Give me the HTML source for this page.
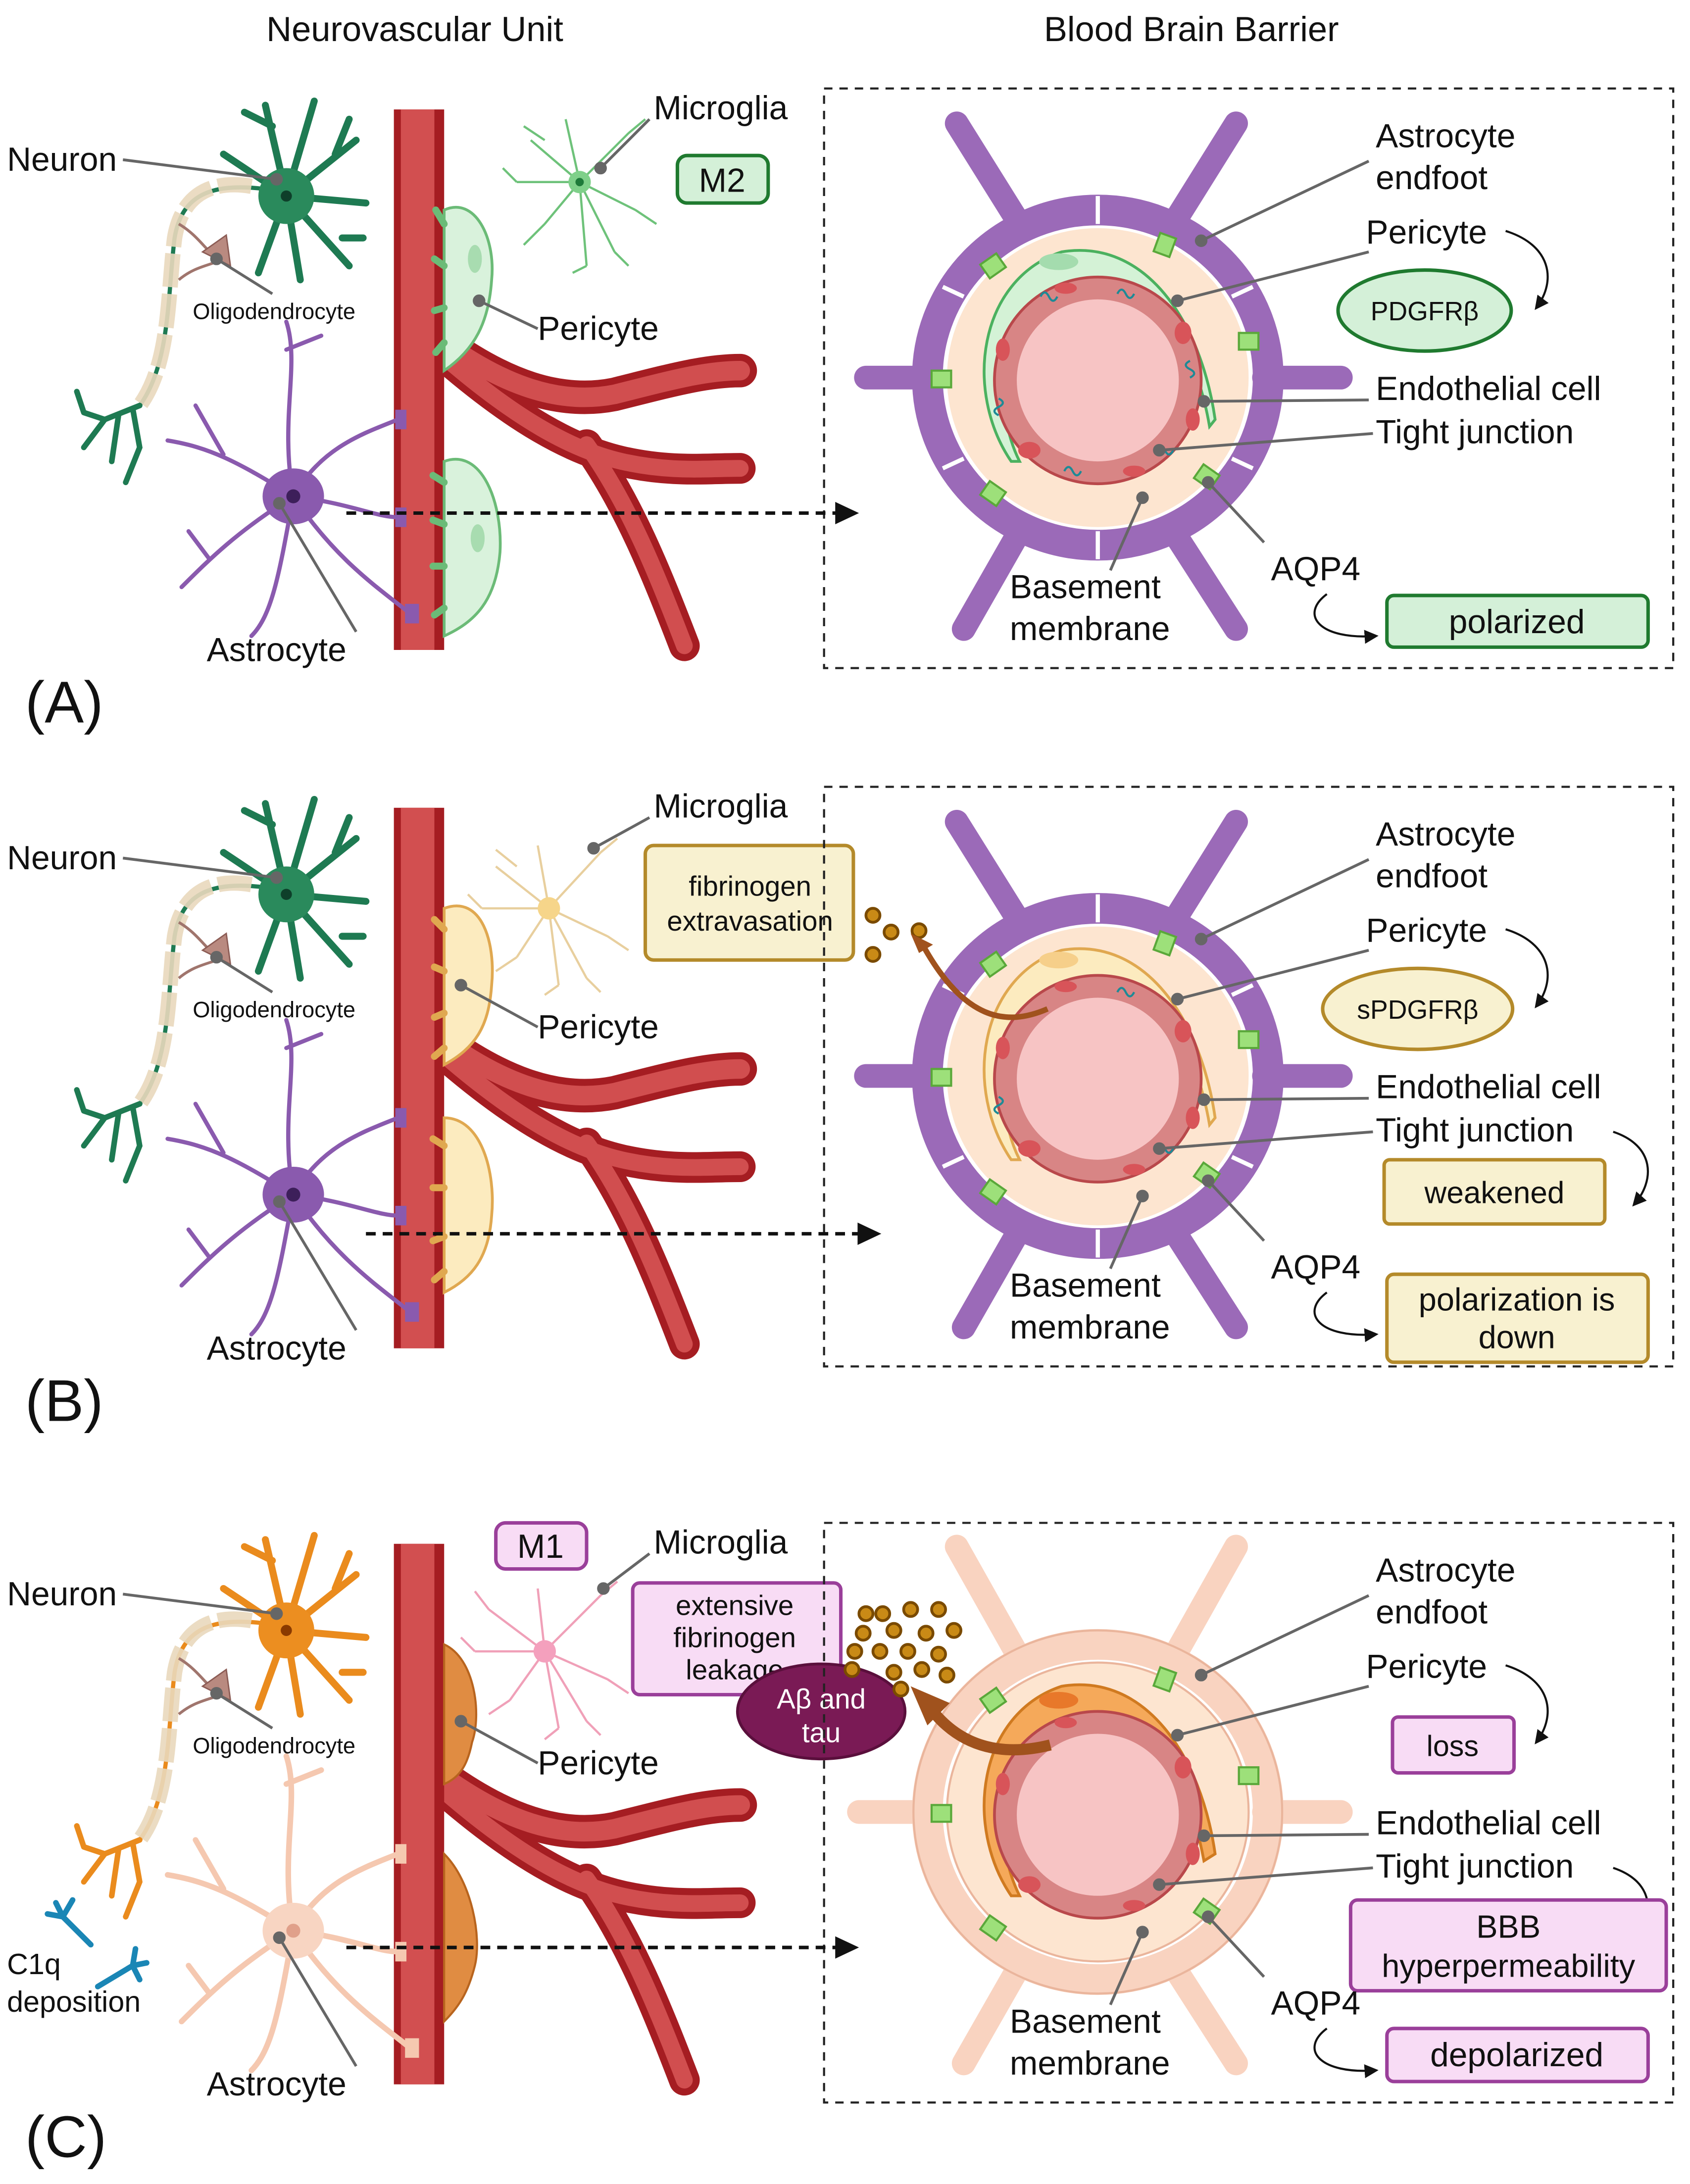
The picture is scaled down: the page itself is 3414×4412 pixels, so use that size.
<!DOCTYPE html>
<html><head><meta charset="utf-8"><style>
html,body{margin:0;padding:0;background:#fff}
svg{display:block}
text{font-family:"Liberation Sans",sans-serif;fill:#111}
</style></head><body>
<svg width="3414" height="4412" viewBox="0 0 1210 1563" xmlns="http://www.w3.org/2000/svg">
<defs>
<marker id="ah" markerWidth="10" markerHeight="10" refX="8" refY="5" orient="auto" markerUnits="userSpaceOnUse"><path d="M0,0 L10,5 L0,10z" fill="#111"/></marker>
<g id="vessel">
  <g fill="none" stroke-linecap="round">
    <path d="M318,245 C360,275 400,290 440,282 C480,272 505,265 530,265" stroke="#a51d22" stroke-width="24"/>
    <path d="M318,255 C370,300 410,322 445,330 C480,338 505,335 530,335" stroke="#a51d22" stroke-width="22"/>
    <path d="M420,318 C450,360 470,410 490,462" stroke="#a51d22" stroke-width="22"/>
    <path d="M318,245 C360,275 400,290 440,282 C480,272 505,265 530,265" stroke="#d14e4f" stroke-width="14"/>
    <path d="M318,255 C370,300 410,322 445,330 C480,338 505,335 530,335" stroke="#d14e4f" stroke-width="12"/>
    <path d="M420,318 C450,360 470,410 490,462" stroke="#d14e4f" stroke-width="12"/>
  </g>
  <rect x="282" y="78" width="36" height="387" fill="#a51d22"/>
  <rect x="287" y="78" width="24" height="387" fill="#d24f50"/>
</g>
<g id="axon">
  <path d="M190,135 C150,130 130,140 125,170 C120,210 122,260 100,290" fill="none" stroke="currentColor" stroke-width="3"/>
  <path d="M180,133 C150,128 130,140 125,170 C120,210 122,260 100,290" fill="none" stroke="#e9d8bd" stroke-width="11" stroke-dasharray="24,5" opacity=".9"/>
  <path d="M100,290 L75,300 L60,295 M85,296 L80,330 M95,292 L100,320 L90,345 M75,300 L60,320 M60,295 L55,280" fill="none" stroke="currentColor" stroke-width="4" stroke-linecap="round"/>
  <path d="M128,160 C145,170 150,185 160,185 C150,190 140,190 128,200" fill="none" stroke="#a0756d" stroke-width="2"/>
  <path d="M145,180 L162,168 L165,190 Z" fill="#b98a80" stroke="#8c5c55"/>
</g>
<g id="bbbin">
  <circle cx="786" cy="272" r="74" fill="#d88585" stroke="#b9484b" stroke-width="2"/>
  <circle cx="786" cy="272" r="58" fill="#f7c4c4"/>
  <g fill="#d85459"><ellipse cx="763" cy="206" rx="8" ry="4"/><ellipse cx="847" cy="238" rx="6" ry="8"/><ellipse cx="854" cy="300" rx="5" ry="8"/><ellipse cx="737" cy="322" rx="8" ry="6"/><ellipse cx="812" cy="337" rx="8" ry="4"/><ellipse cx="718" cy="250" rx="5" ry="8"/></g>
</g>
</defs>

<text x="297" y="29" font-size="25" text-anchor="middle">Neurovascular Unit</text>
<text x="853" y="29" font-size="25" text-anchor="middle">Blood Brain Barrier</text>

<!-- PANEL A -->
<g>
  <use href="#vessel"/>
  <g color="#1e7a52"><use href="#axon"/></g>
  <g stroke="#1e7a52" stroke-width="5" stroke-linecap="round" fill="none">
    <path d="M205,140 L190,75 M205,140 L225,72 M205,140 L255,100 M205,140 L262,145 M205,140 L250,190 M205,140 L215,200 M205,140 L185,195 M205,140 L160,110 M195,90 L175,80 M240,110 L250,85 M245,170 L260,170"/>
  </g>
  <circle cx="205" cy="140" r="20" fill="#2a8a5c"/><circle cx="205" cy="140" r="4" fill="#0e3f2a"/>
  <g stroke="#8a5aae" stroke-width="3" fill="none" stroke-linecap="round">
    <path d="M210,355 C230,320 260,310 285,300 M210,355 C250,360 270,370 285,370 M210,355 C240,400 270,420 295,440 M210,355 C200,300 215,260 205,230 M210,355 C170,330 150,320 120,315 M210,355 C170,380 150,400 130,420 M210,355 C200,410 195,440 180,455 M205,250 L230,240 M160,325 L140,290 M150,400 L135,380"/>
  </g>
  <ellipse cx="210" cy="355" rx="22" ry="20" fill="#8a5aae"/><circle cx="210" cy="355" r="5" fill="#3d1f5a"/>
  <g fill="#8a5aae"><rect x="283" y="293" width="8" height="14"/><rect x="283" y="363" width="8" height="14"/><rect x="290" y="432" width="10" height="14"/></g>
  <g stroke="#6ec27a" stroke-width="1.6" fill="none">
    <path d="M415,130 L380,100 M415,130 L390,160 M415,130 L450,95 M415,130 L455,150 M415,130 L420,190 M415,130 L405,85 M415,130 L370,130 M415,130 L440,180 M390,100 L375,90 M450,95 L462,85 M455,150 L470,160 M390,160 L375,175 M370,130 L360,120 M420,190 L410,195 M440,180 L450,190"/>
  </g>
  <circle cx="415" cy="130" r="8" fill="#7fd08a"/><circle cx="415" cy="130" r="3" fill="#1e7a3a"/>
  <path d="M318,150 C340,140 355,170 352,200 C350,230 340,250 318,265 Z" fill="#d9f2dc" stroke="#6bbb77" stroke-width="2"/>
  <path d="M318,330 C345,320 360,360 358,395 C355,430 340,445 318,455 Z" fill="#d9f2dc" stroke="#6bbb77" stroke-width="2"/>
  <g stroke="#6bbb77" stroke-width="5" stroke-linecap="round"><path d="M318,160 L312,150 M318,190 L311,185 M318,220 L311,222 M318,245 L312,252 M318,345 L310,340 M318,375 L310,372 M318,405 L310,405 M318,435 L311,440"/></g>
  <ellipse cx="340" cy="185" rx="5" ry="10" fill="#a8dcb0"/><ellipse cx="342" cy="385" rx="5" ry="10" fill="#a8dcb0"/>
</g>
<g stroke="#666" stroke-width="2" fill="#666">
  <path d="M88,114 L198,128" fill="none"/><circle cx="198" cy="128" r="3.5"/>
  <path d="M195,210 L155,185" fill="none"/><circle cx="155" cy="185" r="3.5"/>
  <path d="M465,85 L430,120" fill="none"/><circle cx="430" cy="120" r="3.5"/>
  <path d="M385,235 L343,215" fill="none"/><circle cx="343" cy="215" r="3.5"/>
  <path d="M255,452 L200,360" fill="none"/><circle cx="200" cy="360" r="3.5"/>
</g>
<text x="5" y="122" font-size="24">Neuron</text>
<text x="138" y="228" font-size="16">Oligodendrocyte</text>
<text x="468" y="85" font-size="24">Microglia</text>
<rect x="485" y="111" width="65" height="34" rx="7" fill="#d4f0d8" stroke="#1f7a2f" stroke-width="2.5"/>
<text x="517" y="137" font-size="24" text-anchor="middle">M2</text>
<text x="385" y="243" font-size="24">Pericyte</text>
<text x="148" y="473" font-size="24">Astrocyte</text>
<text x="18" y="517" font-size="42">(A)</text>

<rect x="590" y="63" width="608" height="415" fill="none" stroke="#222" stroke-width="1.5" stroke-dasharray="6,5"/>
<path d="M248,367 L610,367" stroke="#111" stroke-width="2.5" stroke-dasharray="7,5" fill="none"/>
<path d="M598,359 L615,367 L598,375 Z" fill="#111"/>
<g stroke="#9b6ab8" stroke-width="17" stroke-linecap="round" fill="none">
  <path d="M685,88 L730,160 M885,88 L840,160 M620,270 L668,270 M960,270 L905,270 M690,450 L730,380 M885,450 L840,380"/>
</g>
<ellipse cx="786" cy="270" rx="122" ry="120" fill="none" stroke="#9b6ab8" stroke-width="22"/>
<g stroke="#fff" stroke-width="3"><path d="M786,140 L786,160 M786,380 L786,400 M675,205 L690,212 M675,335 L690,328 M897,205 L882,212 M897,335 L882,328"/></g>
<ellipse cx="786" cy="270" rx="108" ry="107" fill="#fde5d0"/>
<g fill="#9de07a" stroke="#5aa83a" stroke-width="1.5"><rect x="704" y="184" width="14" height="12" transform="rotate(-35 711 190)"/><rect x="828" y="168" width="12" height="14" transform="rotate(20 834 175)"/><rect x="667" y="265" width="14" height="12"/><rect x="887" y="238" width="14" height="12"/><rect x="704" y="347" width="14" height="12" transform="rotate(35 711 353)"/><rect x="857" y="335" width="14" height="12" transform="rotate(35 864 341)"/></g>
<path d="M724,330 C690,280 700,200 760,180 C820,170 860,230 870,300 L866,305 C855,240 820,195 780,200 C725,210 705,280 730,330 Z" fill="#d4f2d6" stroke="#4bb15f" stroke-width="2"/>
<ellipse cx="758" cy="187" rx="14" ry="6" fill="#a4dcae"/>
<use href="#bbbin"/>
<g stroke="#1d8a96" stroke-width="1.5" fill="none"><path d="M745,212 q3,-6 6,0 q3,6 6,0 M800,210 q3,-6 6,0 q3,6 6,0 M852,258 q-6,3 0,6 q6,3 0,6 M715,285 q6,3 0,6 q-6,3 0,6 M762,337 q3,-6 6,0 q3,6 6,0 M828,322 q3,-6 6,0 q3,6 6,0"/></g>
<g stroke="#666" stroke-width="2" fill="#666">
  <path d="M980,115 L860,172" fill="none"/><circle cx="860" cy="172" r="3.5"/>
  <path d="M980,180 L843,215" fill="none"/><circle cx="843" cy="215" r="3.5"/>
  <path d="M980,286 L862,287" fill="none"/><circle cx="862" cy="287" r="3.5"/>
  <path d="M983,310 L830,322" fill="none"/><circle cx="830" cy="322" r="3.5"/>
  <path d="M905,388 L865,345" fill="none"/><circle cx="865" cy="345" r="3.5"/>
  <path d="M795,408 L818,356" fill="none"/><circle cx="818" cy="356" r="3.5"/>
</g>
<text x="985" y="105" font-size="24">Astrocyte</text>
<text x="985" y="135" font-size="24">endfoot</text>
<text x="978" y="174" font-size="24">Pericyte</text>
<path d="M1078,165 C1110,175 1115,200 1100,220" fill="none" stroke="#111" stroke-width="1.5" marker-end="url(#ah)"/>
<ellipse cx="1020" cy="222" rx="62" ry="29" fill="#d4f0d8" stroke="#1f7a2f" stroke-width="2.5"/>
<text x="1020" y="229" font-size="19" text-anchor="middle">PDGFRβ</text>
<text x="985" y="286" font-size="24">Endothelial cell</text>
<text x="985" y="317" font-size="24">Tight junction</text>
<text x="910" y="415" font-size="24">AQP4</text>
<text x="723" y="428" font-size="24">Basement</text>
<text x="723" y="458" font-size="24">membrane</text>
<path d="M950,425 C930,440 945,458 985,455" fill="none" stroke="#111" stroke-width="1.5" marker-end="url(#ah)"/>
<rect x="993" y="426" width="187" height="37" rx="5" fill="#d4f0d8" stroke="#1f7a2f" stroke-width="2.5"/>
<text x="1086" y="453" font-size="24" text-anchor="middle">polarized</text>

<!-- PANEL B -->
<g transform="translate(0,500)">
  <use href="#vessel"/>
  <g color="#1e7a52"><use href="#axon"/></g>
  <g stroke="#1e7a52" stroke-width="5" stroke-linecap="round" fill="none">
    <path d="M205,140 L190,75 M205,140 L225,72 M205,140 L255,100 M205,140 L262,145 M205,140 L250,190 M205,140 L215,200 M205,140 L185,195 M205,140 L160,110 M195,90 L175,80 M240,110 L250,85 M245,170 L260,170"/>
  </g>
  <circle cx="205" cy="140" r="20" fill="#2a8a5c"/><circle cx="205" cy="140" r="4" fill="#0e3f2a"/>
  <g stroke="#8a5aae" stroke-width="3" fill="none" stroke-linecap="round">
    <path d="M210,355 C230,320 260,310 285,300 M210,355 C250,360 270,370 285,370 M210,355 C240,400 270,420 295,440 M210,355 C200,300 215,260 205,230 M210,355 C170,330 150,320 120,315 M210,355 C170,380 150,400 130,420 M210,355 C200,410 195,440 180,455 M205,250 L230,240 M160,325 L140,290 M150,400 L135,380"/>
  </g>
  <ellipse cx="210" cy="355" rx="22" ry="20" fill="#8a5aae"/><circle cx="210" cy="355" r="5" fill="#3d1f5a"/>
  <g fill="#8a5aae"><rect x="283" y="293" width="8" height="14"/><rect x="283" y="363" width="8" height="14"/><rect x="290" y="432" width="10" height="14"/></g>
  <g stroke="#e8cf9e" stroke-width="1.6" fill="none">
    <path d="M393,150 L355,120 M393,150 L370,185 M393,150 L430,110 M393,150 L435,170 M393,150 L400,205 M393,150 L385,105 M393,150 L345,150 M393,150 L420,200 M370,120 L355,108 M430,110 L442,100 M435,170 L450,180 M370,185 L355,195 M345,150 L335,140 M400,205 L390,212 M420,200 L430,210"/>
  </g>
  <circle cx="393" cy="150" r="8" fill="#f6d58a"/>
  <path d="M318,150 C345,140 355,175 352,205 C350,235 340,250 318,262 Z" fill="#fcebbf" stroke="#e0a850" stroke-width="2"/>
  <path d="M318,300 C345,300 355,340 352,370 C350,400 338,415 318,425 Z" fill="#fcebbf" stroke="#e0a850" stroke-width="2"/>
  <g stroke="#e0a850" stroke-width="5" stroke-linecap="round"><path d="M318,165 L311,158 M318,195 L311,192 M318,225 L311,228 M318,250 L311,256 M318,320 L310,315 M318,350 L310,350 M318,385 L310,388 M318,410 L311,416"/></g>
</g>
<g transform="translate(0,500)">
<g stroke="#666" stroke-width="2" fill="#666">
  <path d="M88,114 L198,128" fill="none"/><circle cx="198" cy="128" r="3.5"/>
  <path d="M195,210 L155,185" fill="none"/><circle cx="155" cy="185" r="3.5"/>
  <path d="M465,85 L425,107" fill="none"/><circle cx="425" cy="107" r="3.5"/>
  <path d="M385,235 L330,205" fill="none"/><circle cx="330" cy="205" r="3.5"/>
  <path d="M255,452 L200,360" fill="none"/><circle cx="200" cy="360" r="3.5"/>
</g>
<text x="5" y="122" font-size="24">Neuron</text>
<text x="138" y="228" font-size="16">Oligodendrocyte</text>
<text x="468" y="85" font-size="24">Microglia</text>
<text x="385" y="243" font-size="24">Pericyte</text>
<text x="148" y="473" font-size="24">Astrocyte</text>
<text x="18" y="517" font-size="42">(B)</text>
<rect x="462" y="105" width="149" height="82" rx="6" fill="#f8f1d0" stroke="#b48a2a" stroke-width="2.5"/>
<text x="537" y="141" font-size="20" text-anchor="middle">fibrinogen</text>
<text x="537" y="166" font-size="20" text-anchor="middle">extravasation</text>
<g fill="#c98a16" stroke="#7a4a00" stroke-width="2"><circle cx="625" cy="155" r="5"/><circle cx="638" cy="167" r="5"/><circle cx="658" cy="166" r="5"/><circle cx="625" cy="183" r="5"/></g>
<rect x="590" y="63" width="608" height="415" fill="none" stroke="#222" stroke-width="1.5" stroke-dasharray="6,5"/>
<path d="M262,383 L625,383" stroke="#111" stroke-width="2.5" stroke-dasharray="7,5" fill="none"/>
<path d="M614,375 L631,383 L614,391 Z" fill="#111"/>
<g stroke="#9b6ab8" stroke-width="17" stroke-linecap="round" fill="none">
  <path d="M685,88 L730,160 M885,88 L840,160 M620,270 L668,270 M960,270 L905,270 M690,450 L730,380 M885,450 L840,380"/>
</g>
<ellipse cx="786" cy="270" rx="122" ry="120" fill="none" stroke="#9b6ab8" stroke-width="22"/>
<g stroke="#fff" stroke-width="3"><path d="M786,140 L786,160 M786,380 L786,400 M675,205 L690,212 M675,335 L690,328 M897,205 L882,212 M897,335 L882,328"/></g>
<ellipse cx="786" cy="270" rx="108" ry="107" fill="#fde5d0"/>
<g fill="#9de07a" stroke="#5aa83a" stroke-width="1.5"><rect x="704" y="184" width="14" height="12" transform="rotate(-35 711 190)"/><rect x="828" y="168" width="12" height="14" transform="rotate(20 834 175)"/><rect x="667" y="265" width="14" height="12"/><rect x="887" y="238" width="14" height="12"/><rect x="704" y="347" width="14" height="12" transform="rotate(35 711 353)"/><rect x="857" y="335" width="14" height="12" transform="rotate(35 864 341)"/></g>
<path d="M724,330 C690,280 700,200 760,180 C820,170 860,230 870,300 L866,305 C855,240 820,195 780,200 C725,210 705,280 730,330 Z" fill="#fcebbf" stroke="#e0a850" stroke-width="2"/>
<ellipse cx="758" cy="187" rx="14" ry="6" fill="#f6cf8a"/>
<use href="#bbbin"/>
<g stroke="#1d8a96" stroke-width="1.5" fill="none"><path d="M800,210 q3,-6 6,0 q3,6 6,0 M715,285 q6,3 0,6 q-6,3 0,6 M828,322 q3,-6 6,0 q3,6 6,0"/></g>
<path d="M750,222 C720,235 690,230 660,175" fill="none" stroke="#a0521d" stroke-width="4"/>
<path d="M652,168 L668,176 L658,182 Z" fill="#a0521d"/>
<g stroke="#666" stroke-width="2" fill="#666">
  <path d="M980,115 L860,172" fill="none"/><circle cx="860" cy="172" r="3.5"/>
  <path d="M980,180 L843,215" fill="none"/><circle cx="843" cy="215" r="3.5"/>
  <path d="M980,286 L862,287" fill="none"/><circle cx="862" cy="287" r="3.5"/>
  <path d="M983,310 L830,322" fill="none"/><circle cx="830" cy="322" r="3.5"/>
  <path d="M905,388 L865,345" fill="none"/><circle cx="865" cy="345" r="3.5"/>
  <path d="M795,408 L818,356" fill="none"/><circle cx="818" cy="356" r="3.5"/>
</g>
<text x="985" y="105" font-size="24">Astrocyte</text>
<text x="985" y="135" font-size="24">endfoot</text>
<text x="978" y="174" font-size="24">Pericyte</text>
<path d="M1078,165 C1110,175 1115,200 1100,220" fill="none" stroke="#111" stroke-width="1.5" marker-end="url(#ah)"/>
<ellipse cx="1015" cy="222" rx="68" ry="29" fill="#f8f1d0" stroke="#b48a2a" stroke-width="2.5"/>
<text x="1015" y="229" font-size="19" text-anchor="middle">sPDGFRβ</text>
<text x="985" y="286" font-size="24">Endothelial cell</text>
<text x="985" y="317" font-size="24">Tight junction</text>
<path d="M1155,310 C1185,320 1185,345 1170,362" fill="none" stroke="#111" stroke-width="1.5" marker-end="url(#ah)"/>
<rect x="991" y="330" width="158" height="46" rx="4" fill="#f8f1d0" stroke="#b48a2a" stroke-width="2.5"/>
<text x="1070" y="361" font-size="22" text-anchor="middle">weakened</text>
<text x="910" y="415" font-size="24">AQP4</text>
<text x="723" y="428" font-size="24">Basement</text>
<text x="723" y="458" font-size="24">membrane</text>
<path d="M950,425 C930,440 945,458 985,455" fill="none" stroke="#111" stroke-width="1.5" marker-end="url(#ah)"/>
<rect x="993" y="412" width="187" height="63" rx="5" fill="#f8f1d0" stroke="#b48a2a" stroke-width="2.5"/>
<text x="1086" y="438" font-size="23" text-anchor="middle">polarization is</text>
<text x="1086" y="465" font-size="23" text-anchor="middle">down</text>
</g>

<!-- PANEL C -->
<g transform="translate(0,1027)">
  <use href="#vessel"/>
  <g color="#ea8b1d"><use href="#axon"/></g>
  <g stroke="#ea8b1d" stroke-width="5" stroke-linecap="round" fill="none">
    <path d="M205,140 L190,75 M205,140 L225,72 M205,140 L255,100 M205,140 L262,145 M205,140 L250,190 M205,140 L215,200 M205,140 L185,195 M205,140 L160,110 M195,90 L175,80 M240,110 L250,85 M245,170 L260,170"/>
  </g>
  <circle cx="205" cy="140" r="20" fill="#ec8e20"/><circle cx="205" cy="140" r="4" fill="#8a3a00"/>
  <g stroke="#f5c8b0" stroke-width="4" fill="none" stroke-linecap="round">
    <path d="M210,355 C230,320 260,310 285,300 M210,355 C250,360 270,370 285,370 M210,355 C240,400 270,420 295,440 M210,355 C200,300 215,260 205,230 M210,355 C170,330 150,320 120,315 M210,355 C170,380 150,400 130,420 M210,355 C200,410 195,440 180,455 M205,250 L230,240 M160,325 L140,290 M150,400 L135,380"/>
  </g>
  <ellipse cx="210" cy="355" rx="22" ry="20" fill="#f8d5c2"/><circle cx="210" cy="355" r="5" fill="#e0a08a"/>
  <g fill="#f5c8b0"><rect x="283" y="293" width="8" height="14"/><rect x="283" y="363" width="8" height="14"/><rect x="290" y="432" width="10" height="14"/></g>
  <g stroke="#f0a0b8" stroke-width="1.6" fill="none">
    <path d="M390,155 L350,125 M390,155 L365,190 M390,155 L430,115 M390,155 L435,175 M390,155 L400,210 M390,155 L385,110 M390,155 L340,155 M390,155 L420,205 M350,125 L340,112 M430,115 L442,105 M435,175 L450,185 M365,190 L350,200 M340,155 L330,145 M400,210 L390,218 M420,205 L430,215"/>
  </g>
  <circle cx="390" cy="155" r="8" fill="#f4a0bd"/>
  <path d="M318,150 C340,160 345,200 338,220 C335,235 330,245 318,250 Z" fill="#e08c42" stroke="#b8641e" stroke-width="1.5"/>
  <path d="M318,300 C338,320 345,360 340,380 C335,400 328,410 318,420 Z" fill="#e08c42" stroke="#b8641e" stroke-width="1.5"/>
  <g stroke="#1a86b5" stroke-width="4" stroke-linecap="round" fill="none"><path d="M45,345 L65,365 M45,345 L40,335 M45,345 L52,333 M45,345 L34,343 M70,395 L95,380 M95,380 L97,368 M95,380 L105,378 M95,380 L100,390"/></g>
</g>
<g transform="translate(0,1027)">
<g stroke="#666" stroke-width="2" fill="#666">
  <path d="M88,114 L198,128" fill="none"/><circle cx="198" cy="128" r="3.5"/>
  <path d="M195,210 L155,185" fill="none"/><circle cx="155" cy="185" r="3.5"/>
  <path d="M465,85 L432,110" fill="none"/><circle cx="432" cy="110" r="3.5"/>
  <path d="M385,235 L330,205" fill="none"/><circle cx="330" cy="205" r="3.5"/>
  <path d="M255,452 L200,360" fill="none"/><circle cx="200" cy="360" r="3.5"/>
</g>
<text x="5" y="122" font-size="24">Neuron</text>
<text x="138" y="228" font-size="16">Oligodendrocyte</text>
<text x="468" y="85" font-size="24">Microglia</text>
<rect x="355" y="63" width="65" height="33" rx="7" fill="#f8dcf5" stroke="#9a3f9a" stroke-width="2.5"/>
<text x="387" y="88" font-size="24" text-anchor="middle">M1</text>
<text x="385" y="243" font-size="24">Pericyte</text>
<text x="148" y="473" font-size="24">Astrocyte</text>
<text x="5" y="386" font-size="21">C1q</text>
<text x="5" y="413" font-size="21">deposition</text>
<text x="18" y="517" font-size="42">(C)</text>
<rect x="453" y="106" width="149" height="80" rx="5" fill="#f8dcf5" stroke="#9a3f9a" stroke-width="2.5"/>
<text x="526" y="129" font-size="20" text-anchor="middle">extensive</text>
<text x="526" y="152" font-size="20" text-anchor="middle">fibrinogen</text>
<text x="526" y="175" font-size="20" text-anchor="middle">leakage</text>
<ellipse cx="588" cy="198" rx="60" ry="34" fill="#7a1a55" stroke="#5a0f3c" stroke-width="2"/>
<text x="588" y="196" font-size="20" text-anchor="middle" style="fill:#fff">Aβ and</text>
<text x="588" y="220" font-size="20" text-anchor="middle" style="fill:#fff">tau</text>
<g fill="#c98a16" stroke="#7a4a00" stroke-width="2">
<circle cx="620" cy="128" r="5"/><circle cx="632" cy="128" r="5"/><circle cx="652" cy="125" r="5"/><circle cx="672" cy="125" r="5"/><circle cx="618" cy="142" r="5"/><circle cx="640" cy="140" r="5"/><circle cx="663" cy="142" r="5"/><circle cx="683" cy="140" r="5"/><circle cx="612" cy="155" r="5"/><circle cx="630" cy="155" r="5"/><circle cx="650" cy="155" r="5"/><circle cx="672" cy="157" r="5"/><circle cx="610" cy="168" r="5"/><circle cx="640" cy="170" r="5"/><circle cx="660" cy="168" r="5"/><circle cx="678" cy="172" r="5"/><circle cx="645" cy="182" r="5"/></g>
<rect x="590" y="63" width="608" height="415" fill="none" stroke="#222" stroke-width="1.5" stroke-dasharray="6,5"/>
<path d="M248,367 L610,367" stroke="#111" stroke-width="2.5" stroke-dasharray="7,5" fill="none"/>
<path d="M598,359 L615,367 L598,375 Z" fill="#111"/>
<g stroke="#f9d3c0" stroke-width="17" stroke-linecap="round" fill="none">
  <path d="M685,80 L730,160 M885,80 L840,160 M615,270 L668,270 M960,270 L905,270 M690,450 L730,380 M885,450 L840,380"/>
</g>
<ellipse cx="786" cy="270" rx="122" ry="120" fill="none" stroke="#f9d3c0" stroke-width="22"/>
<ellipse cx="786" cy="270" rx="132" ry="130" fill="none" stroke="#eab59c" stroke-width="1.5"/>
<ellipse cx="786" cy="270" rx="108" ry="107" fill="#fde5d0" stroke="#eab59c" stroke-width="1.5"/>
<g fill="#9de07a" stroke="#5aa83a" stroke-width="1.5"><rect x="704" y="184" width="14" height="12" transform="rotate(-35 711 190)"/><rect x="828" y="168" width="12" height="14" transform="rotate(20 834 175)"/><rect x="667" y="265" width="14" height="12"/><rect x="887" y="238" width="14" height="12"/><rect x="704" y="347" width="14" height="12" transform="rotate(35 711 353)"/><rect x="857" y="335" width="14" height="12" transform="rotate(35 864 341)"/></g>
<path d="M724,330 C690,280 700,200 760,180 C820,170 860,230 870,300 L862,305 C850,240 820,205 780,210 C725,220 705,280 730,330 Z" fill="#f5a95a" stroke="#d07a20" stroke-width="2"/>
<ellipse cx="758" cy="190" rx="14" ry="6" fill="#e8782a"/>
<use href="#bbbin"/>
<path d="M752,222 C720,230 690,225 668,198" fill="none" stroke="#a0521d" stroke-width="8"/>
<path d="M652,180 L680,192 L664,208 Z" fill="#a0521d"/>
<g stroke="#666" stroke-width="2" fill="#666">
  <path d="M980,115 L860,172" fill="none"/><circle cx="860" cy="172" r="3.5"/>
  <path d="M980,180 L843,215" fill="none"/><circle cx="843" cy="215" r="3.5"/>
  <path d="M980,286 L862,287" fill="none"/><circle cx="862" cy="287" r="3.5"/>
  <path d="M983,310 L830,322" fill="none"/><circle cx="830" cy="322" r="3.5"/>
  <path d="M905,388 L865,345" fill="none"/><circle cx="865" cy="345" r="3.5"/>
  <path d="M795,408 L818,356" fill="none"/><circle cx="818" cy="356" r="3.5"/>
</g>
<text x="985" y="105" font-size="24">Astrocyte</text>
<text x="985" y="135" font-size="24">endfoot</text>
<text x="978" y="174" font-size="24">Pericyte</text>
<path d="M1078,165 C1110,175 1115,200 1100,220" fill="none" stroke="#111" stroke-width="1.5" marker-end="url(#ah)"/>
<rect x="997" y="202" width="87" height="40" rx="4" fill="#f8dcf5" stroke="#9a3f9a" stroke-width="2.5"/>
<text x="1040" y="230" font-size="21" text-anchor="middle">loss</text>
<text x="985" y="286" font-size="24">Endothelial cell</text>
<text x="985" y="317" font-size="24">Tight junction</text>
<path d="M1155,310 C1185,320 1185,345 1170,362" fill="none" stroke="#111" stroke-width="1.5" marker-end="url(#ah)"/>
<rect x="967" y="333" width="226" height="65" rx="5" fill="#f8dcf5" stroke="#9a3f9a" stroke-width="2.5"/>
<text x="1080" y="360" font-size="23" text-anchor="middle">BBB</text>
<text x="1080" y="388" font-size="23" text-anchor="middle">hyperpermeability</text>
<text x="910" y="415" font-size="24">AQP4</text>
<text x="723" y="428" font-size="24">Basement</text>
<text x="723" y="458" font-size="24">membrane</text>
<path d="M950,425 C930,440 945,458 985,455" fill="none" stroke="#111" stroke-width="1.5" marker-end="url(#ah)"/>
<rect x="993" y="425" width="187" height="38" rx="5" fill="#f8dcf5" stroke="#9a3f9a" stroke-width="2.5"/>
<text x="1086" y="452" font-size="24" text-anchor="middle">depolarized</text>
</g>
</svg>
</body></html>
